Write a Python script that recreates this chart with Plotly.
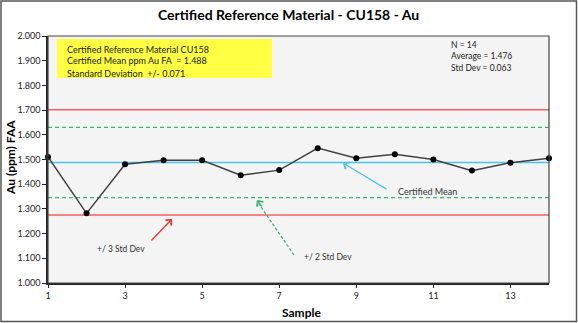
import plotly.graph_objects as go

samples = list(range(1, 15))
au_values = [1.510, 1.282, 1.481, 1.497, 1.497, 1.436, 1.457, 1.546, 1.505, 1.521, 1.500, 1.455, 1.487, 1.505]
cert_mean = 1.488
cert_sd = 0.071
title = "Certified Reference Material - CU158 - Au"
x_title = "Sample"
y_title = "Au (ppm) FAA"
info_lines = ["Certified Reference Material CU158", "Certified Mean ppm Au FA  = 1.488", "Standard Deviation  +/- 0.071"]
stats_lines = ["N = 14", "Average = 1.476", "Std Dev = 0.063"]

W, H = 578, 323
L, R, T, B = 48, 549, 36, 283
FONT = "Lato, sans-serif"


def px(x):
    return (x - L) / (R - L)


def py(y):
    return (B - y) / (B - T)


fig = go.Figure()
xr = [samples[0], samples[-1]]
for val, color, dash in [
    (cert_mean + 3 * cert_sd, "#f06060", "solid"),
    (cert_mean - 3 * cert_sd, "#f06060", "solid"),
    (cert_mean + 2 * cert_sd, "#3cb371", "dash"),
    (cert_mean - 2 * cert_sd, "#3cb371", "dash"),
    (cert_mean, "#4dc3e8", "solid"),
]:
    fig.add_trace(go.Scatter(x=xr, y=[val, val], mode="lines",
                             line=dict(color=color, width=1.5 if dash == "solid" else 1.3, dash="4px,3px" if dash == "dash" else "solid"),
                             hoverinfo="skip", showlegend=False))

fig.add_trace(go.Scatter(x=samples, y=au_values, mode="lines+markers",
                         line=dict(color="#404040", width=1.5),
                         marker=dict(color="black", size=6),
                         showlegend=False, cliponaxis=False))

shapes = []
shapes.append(dict(type="rect", xref="paper", yref="paper", x0=px(57), x1=px(272), y0=py(78), y1=py(39),
                   fillcolor="#ffff44", line=dict(width=0), layer="below"))
shapes.append(dict(type="rect", xref="paper", yref="paper", x0=px(1), x1=px(576.5), y0=py(321.5), y1=py(1),
                   line=dict(color="#555555", width=1.5)))
shapes.append(dict(type="rect", xref="paper", yref="paper", x0=0, x1=1, y0=0, y1=1,
                   line=dict(color="#444444", width=1.2)))
shapes.append(dict(type="line", xref="paper", yref="paper", x0=px(294), y0=py(255), x1=px(259), y1=py(204),
                   line=dict(color="#3cb371", width=1.3, dash="3px,2px")))

annotations = []
annotations.append(dict(text="<b>" + title + "</b>", xref="paper", yref="paper", x=px(288), y=py(14),
                        showarrow=False, font=dict(size=14, color="black", family=FONT), xanchor="center", yanchor="middle"))
for i, t in enumerate(info_lines):
    annotations.append(dict(text=t, xref="paper", yref="paper", x=px(65), y=py(49 + 12 * i), showarrow=False,
                            xanchor="left", yanchor="middle", font=dict(size=9, color="#222", family=FONT)))
for i, t in enumerate(stats_lines):
    annotations.append(dict(text=t, xref="paper", yref="paper", x=px(449), y=py(45 + 11.5 * i), showarrow=False,
                            xanchor="left", yanchor="middle", font=dict(size=8.5, color="#222", family=FONT)))
annotations.append(dict(text="Certified Mean", xref="paper", yref="paper", x=px(396), y=py(191), showarrow=False,
                        xanchor="left", yanchor="middle", font=dict(size=9, color="#333", family=FONT)))
annotations.append(dict(text="+/ 3 Std Dev", xref="paper", yref="paper", x=px(95), y=py(249), showarrow=False,
                        xanchor="left", yanchor="middle", font=dict(size=8.5, color="#333", family=FONT)))
annotations.append(dict(text="+/ 2 Std Dev", xref="paper", yref="paper", x=px(302), y=py(257), showarrow=False,
                        xanchor="left", yanchor="middle", font=dict(size=8.5, color="#333", family=FONT)))
annotations.append(dict(text="", xref="paper", yref="paper", x=px(343), y=py(163), ax=388 - 343, ay=190 - 163,
                        showarrow=True, arrowhead=4, arrowsize=1.2, arrowwidth=1.3, arrowcolor="#4dc3e8"))
annotations.append(dict(text="", xref="paper", yref="paper", x=px(172), y=py(219), ax=150 - 172, ay=242 - 219,
                        showarrow=True, arrowhead=4, arrowsize=1.2, arrowwidth=1.3, arrowcolor="#f03030"))
annotations.append(dict(text="", xref="paper", yref="paper", x=px(257), y=py(200), ax=6, ay=8,
                        showarrow=True, arrowhead=4, arrowsize=1.2, arrowwidth=1.3, arrowcolor="#3cb371"))
annotations.append(dict(text="<b>" + y_title + "</b>", xref="paper", yref="paper", x=px(10), y=py(158), showarrow=False,
                        textangle=-90, xanchor="center", yanchor="middle", font=dict(size=12, color="black", family=FONT)))
annotations.append(dict(text="<b>" + x_title + "</b>", xref="paper", yref="paper", x=px(301), y=py(312), showarrow=False,
                        xanchor="center", yanchor="middle", font=dict(size=12, color="black", family=FONT)))

fig.update_layout(
    width=W, height=H,
    margin=dict(l=L, r=W - R, t=T, b=H - B),
    paper_bgcolor="white", plot_bgcolor="#f4f4f4",
    shapes=shapes, annotations=annotations,
    xaxis=dict(range=xr, tickvals=list(range(1, 15, 2)), showgrid=False, zeroline=False,
               ticks="outside", ticklen=3, tickcolor="#222", showline=True, linecolor="#222", linewidth=1.5,
               tickfont=dict(size=9, color="#222", family=FONT)),
    yaxis=dict(range=[1.0, 2.0], dtick=0.1, tickformat=".3f", showgrid=False, zeroline=False,
               ticks="outside", ticklen=4, tickcolor="#222", showline=True, linecolor="#222", linewidth=1.5,
               tickfont=dict(size=9, color="#222", family=FONT)),
    font=dict(family=FONT),
)

fig.write_html("out.html")
